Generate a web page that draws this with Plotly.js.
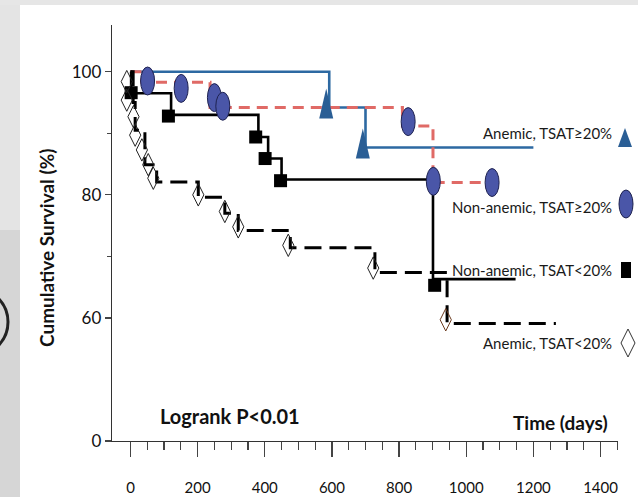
<!DOCTYPE html>
<html><head><meta charset="utf-8">
<script src="https://cdn.plot.ly/plotly-3.0.1.min.js"></script>
<style>html,body{margin:0;padding:0;background:#fff}#chart{width:638px;height:497px}</style>
</head><body><div id="chart"></div>
<script>
// ---- data (time in days, cumulative survival in %) ----
var anemicHiT = [0, 592, 700, 1200];
var anemicHiS = [100, 94.2, 87.7, 87.7];
var anemicHiCensT = [583, 692];
var anemicHiCensS = [94.2, 87.7];

var nonAnemicHiT = [0, 34, 237, 810, 901, 1070];
var nonAnemicHiS = [100, 98.3, 94.2, 91.2, 82.0, 82.0];
var nonAnemicHiCensT = [51, 151, 250, 275, 827, 902, 1077];
var nonAnemicHiCensS = [98.5, 97.3, 95.8, 94.4, 91.9, 82.2, 82.0];

var nonAnemicLoT = [0, 2, 121, 381, 410, 450, 901, 1147];
var nonAnemicLoS = [100, 96.5, 93.0, 89.4, 85.9, 82.5, 66.3, 66.3];
var nonAnemicLoCensT = [2, 113, 373, 401, 447, 906];
var nonAnemicLoCensS = [96.6, 92.8, 89.4, 85.9, 82.3, 65.3];

var anemicLoT = [0, 8, 14, 43, 78, 202, 281, 321, 476, 728, 943, 1267];
var anemicLoS = [100, 95.0, 90.5, 84.9, 82.1, 79.6, 77.0, 74.2, 71.4, 67.4, 59.1, 59.1];
var anemicLoCensT = [-11, -11, 9, 14, 34, 53, 68, 202, 281, 321, 470, 723, 939];
var anemicLoCensS = [98.4, 95.4, 92.7, 89.7, 87.3, 84.9, 82.7, 80.0, 77.3, 74.8, 71.8, 68.1, 59.7];

var seriesLabels = ['Anemic, TSAT\u226520%', 'Non-anemic, TSAT\u226520%', 'Non-anemic, TSAT<20%', 'Anemic, TSAT<20%'];
var xTickVals = [0, 200, 400, 600, 800, 1000, 1200, 1400];
var yTickVals = [40, 60, 80, 100];
var yTickText = ['0', '60', '80', '100'];

// ---- styling ----
var BLUE = '#2D69A2', RED = '#E06A66', ELL = '#4A56A8', TRI = '#2A5E95';
var FONT = 'Lato, "Open Sans", sans-serif';

var traces = [
  {x: anemicHiT, y: anemicHiS, mode: 'lines', line: {shape: 'hv', color: BLUE, width: 2.6}, hoverinfo: 'skip'},
  {x: nonAnemicHiT, y: nonAnemicHiS, mode: 'lines', line: {shape: 'hv', color: RED, width: 3, dash: '11px,7px'}, hoverinfo: 'skip'},
  {x: nonAnemicLoT, y: nonAnemicLoS, mode: 'lines', line: {shape: 'hv', color: '#000', width: 2.6}, hoverinfo: 'skip'},
  {x: anemicLoT, y: anemicLoS, mode: 'lines', line: {shape: 'hv', color: '#000', width: 3, dash: '17px,8px'}, hoverinfo: 'skip'},
  {x: nonAnemicLoCensT, y: nonAnemicLoCensS, mode: 'markers', marker: {symbol: 'square', size: 13, color: '#000'}, hoverinfo: 'skip'},
  {x: anemicLoCensT, y: anemicLoCensS, mode: 'markers',
   marker: {symbol: 'diamond-tall-open', size: 16,
            color: anemicLoCensT.map(function (t, i) { return i === anemicLoCensT.length - 1 ? '#6B3A1E' : '#222'; }),
            line: {width: 1}}, hoverinfo: 'skip'}
];

var shapes = [];
// background photo strips
function px2x(p) { return (p - 112) / 506; }
function px2y(p) { return (441 - p) / 416; }
shapes.push({type: 'rect', xref: 'paper', yref: 'paper', layer: 'below', x0: px2x(0), x1: px2x(20), y0: px2y(497), y1: px2y(230), fillcolor: '#d6d6d6', line: {width: 0}});
shapes.push({type: 'rect', xref: 'paper', yref: 'paper', layer: 'below', x0: px2x(0), x1: px2x(20), y0: px2y(230), y1: px2y(0), fillcolor: '#e4e4e4', line: {width: 0}});
shapes.push({type: 'rect', xref: 'paper', yref: 'paper', layer: 'below', x0: px2x(0), x1: px2x(638), y0: px2y(5), y1: px2y(0), fillcolor: '#e6e6e6', line: {width: 0}});
shapes.push({type: 'circle', xref: 'paper', yref: 'paper', layer: 'below', xsizemode: 'pixel', ysizemode: 'pixel',
  xanchor: px2x(-22), yanchor: px2y(322), x0: -30, x1: 30, y0: -32, y1: 32, line: {color: '#222', width: 3}});

// censor marks drawn as shapes anchored on data values
anemicHiCensT.forEach(function (t, i) {
  shapes.push({type: 'path', xref: 'x', yref: 'y', xsizemode: 'pixel', ysizemode: 'pixel',
    xanchor: t, yanchor: anemicHiCensS[i], path: 'M0,19 L-7,-11 L7,-11 Z', fillcolor: TRI, line: {width: 0}});
});
nonAnemicHiCensT.forEach(function (t, i) {
  shapes.push({type: 'circle', xref: 'x', yref: 'y', xsizemode: 'pixel', ysizemode: 'pixel',
    xanchor: t, yanchor: nonAnemicHiCensS[i], x0: -7, x1: 7, y0: -14, y1: 14, fillcolor: ELL, line: {color: '#1E2250', width: 1}});
});

// legend glyphs
var legY = [133, 207, 270, 343];
shapes.push({type: 'path', xref: 'paper', yref: 'paper', xsizemode: 'pixel', ysizemode: 'pixel',
  xanchor: px2x(625), yanchor: px2y(138), path: 'M0,10 L-7,-9 L7,-9 Z', fillcolor: TRI, line: {width: 0}});
shapes.push({type: 'circle', xref: 'paper', yref: 'paper', xsizemode: 'pixel', ysizemode: 'pixel',
  xanchor: px2x(626), yanchor: px2y(204), x0: -7, x1: 7, y0: -14, y1: 14, fillcolor: ELL, line: {color: '#1E2250', width: 1}});
shapes.push({type: 'rect', xref: 'paper', yref: 'paper', xsizemode: 'pixel', ysizemode: 'pixel',
  xanchor: px2x(626), yanchor: px2y(270), x0: -5, x1: 5, y0: -8, y1: 8, fillcolor: '#000', line: {width: 0}});
shapes.push({type: 'path', xref: 'paper', yref: 'paper', xsizemode: 'pixel', ysizemode: 'pixel',
  xanchor: px2x(628), yanchor: px2y(343), path: 'M0,14 L7,0 L0,-14 L-7,0 Z', fillcolor: 'rgba(0,0,0,0)', line: {color: '#333', width: 1}});

var annotations = [];
seriesLabels.forEach(function (lab, i) {
  annotations.push({xref: 'paper', yref: 'paper', x: px2x(614), y: px2y(legY[i]), xanchor: 'right', yanchor: 'middle',
    text: lab, showarrow: false, font: {family: FONT, size: 15, color: '#1a1a1a'}});
});
annotations.push({xref: 'paper', yref: 'paper', x: px2x(230), y: px2y(416), xanchor: 'center', yanchor: 'middle',
  text: '<b>Logrank P<0.01</b>', showarrow: false, font: {family: FONT, size: 20, color: '#111'}});
annotations.push({xref: 'paper', yref: 'paper', x: px2x(560), y: px2y(422), xanchor: 'center', yanchor: 'middle',
  text: '<b>Time (days)</b>', showarrow: false, font: {family: FONT, size: 19, color: '#111'}});
annotations.push({xref: 'paper', yref: 'paper', x: px2x(46), y: px2y(248), xanchor: 'center', yanchor: 'middle', textangle: -90,
  text: '<b>Cumulative Survival (%)</b>', showarrow: false, font: {family: FONT, size: 19, color: '#111'}});

var minorX = [];
for (var v = 50; v <= 1450; v += 50) { if (v % 200 !== 0) minorX.push(v); }

var layout = {
  width: 638, height: 497,
  margin: {l: 112, r: 20, t: 25, b: 56},
  paper_bgcolor: '#fff', plot_bgcolor: '#fff',
  showlegend: false,
  font: {family: FONT, color: '#111'},
  xaxis: {
    range: [-55, 1452], showgrid: false, zeroline: false, showline: true, linecolor: '#333', linewidth: 1.3,
    ticks: 'outside', ticklen: 15, tickwidth: 1.3, tickcolor: '#444',
    tickmode: 'array', tickvals: xTickVals, ticktext: xTickVals.map(String),
    tickfont: {family: FONT, size: 15, color: '#111'}, ticklabelstandoff: 18,
    minor: {tickmode: 'array', tickvals: minorX, ticks: 'outside', ticklen: 8, tickwidth: 1.2, tickcolor: '#444', showgrid: false}
  },
  yaxis: {
    range: [40, 107.6], showgrid: false, zeroline: false, showline: true, linecolor: '#333', linewidth: 1.3,
    ticks: 'outside', ticklen: 6, tickwidth: 1.2, tickcolor: '#444',
    tickmode: 'array', tickvals: yTickVals, ticktext: yTickText,
    tickfont: {family: FONT, size: 17, color: '#111'},
    minor: {tickmode: 'array', tickvals: [70, 90], ticks: 'outside', ticklen: 4, tickwidth: 1, tickcolor: '#444', showgrid: false}
  },
  shapes: shapes,
  annotations: annotations
};

Plotly.newPlot('chart', traces, layout, {staticPlot: true, displayModeBar: false});
</script></body></html>
